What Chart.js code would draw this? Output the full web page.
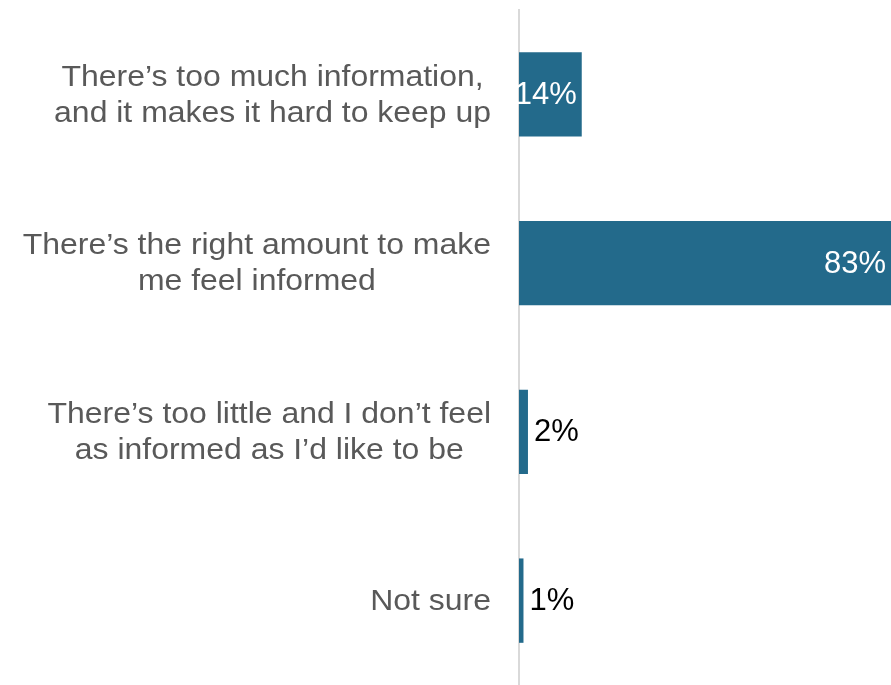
<!DOCTYPE html>
<html>
<head>
<meta charset="utf-8">
<script src="https://cdn.jsdelivr.net/npm/chart.js@4"></script>
<style>
  html, body { margin: 0; padding: 0; background: #fff; }
  #wrap { width: 891px; height: 685px; position: relative; }
</style>
</head>
<body>
<div id="wrap"><canvas id="chart"></canvas></div>
<script>
const categories = [
    ['There\u2019s too much information,', 'and it makes it hard to keep up'],
    ['There\u2019s the right amount to make', 'me feel informed'],
    ['There\u2019s too little and I don\u2019t feel', 'as informed as I\u2019d like to be'],
    ['Not sure']
];
const values = [14, 83, 2, 1];

const barColor = '#236a8b';
const labelFont = '30px "Liberation Sans", Arial, sans-serif';
const valueFont = '31px "Liberation Sans", Arial, sans-serif';

// draws the category labels: each block right-aligned, lines centred within it
// (the source text is a touch wider than plain Arial, hence the small x stretch)
const categoryLabels = {
    id: 'categoryLabels',
    afterDraw(chart) {
        const ctx = chart.ctx;
        const y = chart.scales.y;
        const right = y.right - 28;
        const lineH = 36;
        const stretch = 1.065;
        ctx.save();
        ctx.font = labelFont;
        ctx.fillStyle = '#595959';
        ctx.textAlign = 'center';
        ctx.textBaseline = 'middle';
        categories.forEach((lines, i) => {
            const blockW = Math.max(...lines.map(l => ctx.measureText(l).width)) * stretch;
            const cx = right - blockW / 2;
            const cy = y.getPixelForTick(i) + 1;
            lines.forEach((l, j) => {
                ctx.save();
                ctx.translate(cx, cy + (j - (lines.length - 1) / 2) * lineH);
                ctx.scale(stretch, 1);
                ctx.fillText(l, 0, 0);
                ctx.restore();
            });
        });
        ctx.restore();
    }
};

// value labels: inside the bar in white when it fits, otherwise just past the end
const valueLabels = {
    id: 'valueLabels',
    afterDatasetsDraw(chart) {
        const ctx = chart.ctx;
        const meta = chart.getDatasetMeta(0);
        ctx.save();
        ctx.font = valueFont;
        ctx.textBaseline = 'middle';
        meta.data.forEach((bar, i) => {
            const txt = values[i] + '%';
            if (values[i] >= 10) {
                ctx.fillStyle = '#ffffff';
                ctx.textAlign = 'right';
                ctx.fillText(txt, bar.x - 5, bar.y + 1);
            } else {
                ctx.fillStyle = '#000000';
                ctx.textAlign = 'left';
                ctx.fillText(txt, bar.x + 6, bar.y + 1);
            }
        });
        ctx.restore();
    }
};

new Chart(document.getElementById('chart'), {
    type: 'bar',
    data: {
        labels: categories,
        datasets: [{
            data: values,
            backgroundColor: barColor,
            barPercentage: 0.5,
            categoryPercentage: 1
        }]
    },
    options: {
        indexAxis: 'y',
        responsive: true,
        maintainAspectRatio: false,
        animation: false,
        layout: { padding: { top: 10, bottom: 0, right: 0, left: 0 } },
        plugins: {
            legend: { display: false },
            tooltip: { enabled: false }
        },
        scales: {
            x: {
                display: false,
                min: 0,
                max: 83
            },
            y: {
                grid: { display: false, drawTicks: false },
                border: { display: true, color: '#d9d9d9', width: 2 },
                ticks: { display: false },
                afterFit(scale) { scale.width = 519; }
            }
        }
    },
    plugins: [categoryLabels, valueLabels]
});
</script>
</body>
</html>
